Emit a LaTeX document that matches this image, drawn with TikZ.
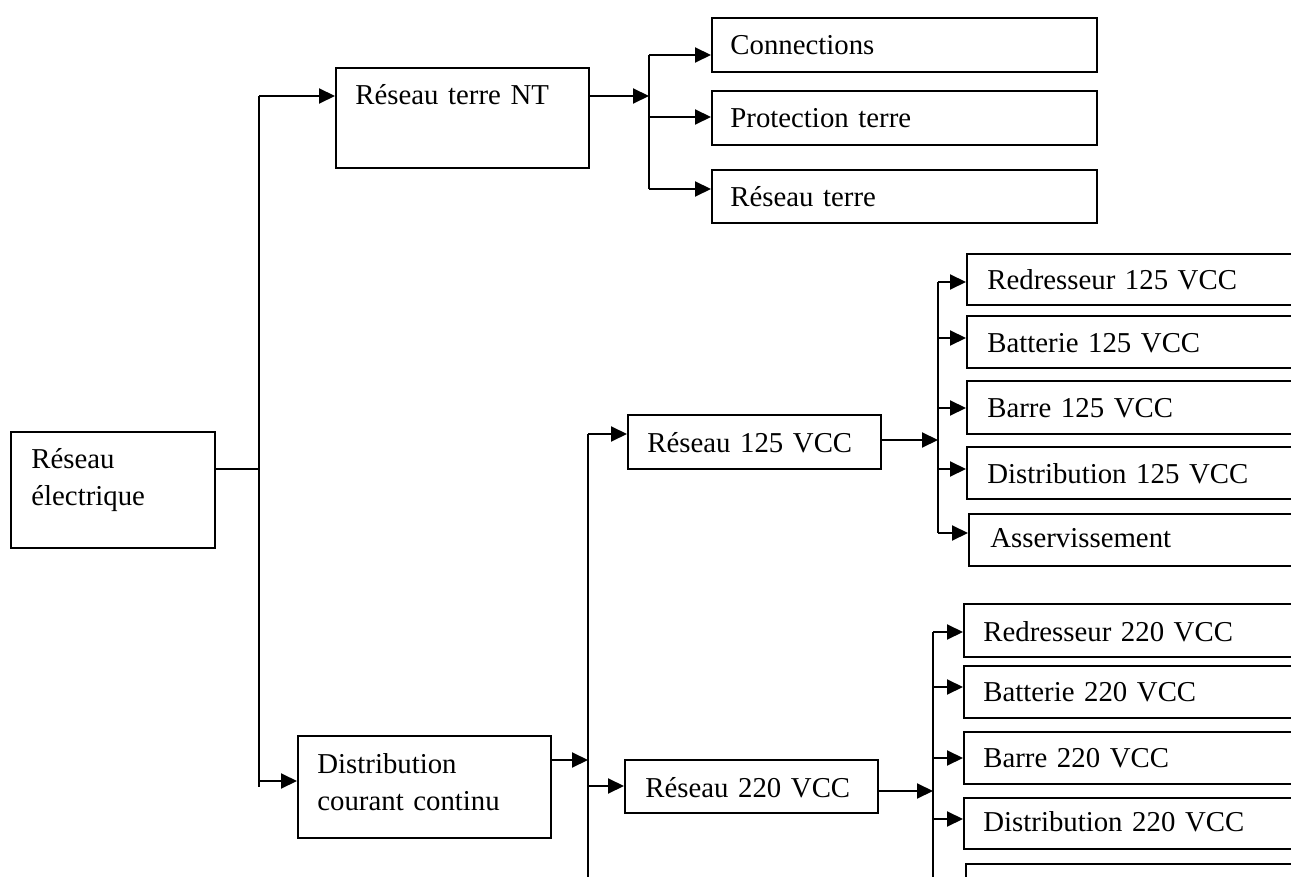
\documentclass[tikz,border=0pt]{standalone}
\usepackage{fontspec}
\setmainfont{Liberation Serif}
\usetikzlibrary{arrows.meta}
\begin{document}
\begin{tikzpicture}[x=0.5pt,y=-0.5pt,
  boxst/.style={draw, line width=1pt, rectangle, inner sep=0pt, anchor=north west},
  txt/.style={inner sep=0pt, anchor=base west, font=\fontsize{14.4}{18.5}\selectfont,
              text width=200pt, align=left},
  link/.style={line width=1pt},
  arr/.style={line width=1pt, -{Triangle[length=8pt,width=7.5pt]}}
]
\useasboundingbox (0,0) rectangle (1291,877);
\clip (0,0) rectangle (1291,877);

% ---- boxes (top-left corner, size) and their labels ----
\node[boxst, minimum width=102pt,   minimum height=58pt]   (elec)   at (10,431)  {};
\node[txt] (elec-t) at (31,468) {Réseau\\électrique};

\node[boxst, minimum width=126.5pt, minimum height=50pt]   (nt)     at (335,67)  {};
\node[txt] (nt-t) at (355,105) {Réseau terre NT};

\node[boxst, minimum width=192.5pt, minimum height=27pt]   (conn)   at (711,17)  {};
\node[txt] (conn-t) at (730,55) {Connections};
\node[boxst, minimum width=192.5pt, minimum height=27pt]   (prot)   at (711,90)  {};
\node[txt] (prot-t) at (730,128) {Protection terre};
\node[boxst, minimum width=192.5pt, minimum height=26.5pt] (rterre) at (711,169) {};
\node[txt] (rterre-t) at (730,207) {Réseau terre};

\node[boxst, minimum width=126.5pt, minimum height=51pt]   (dcc)    at (297,735) {};
\node[txt] (dcc-t) at (317,773) {Distribution\\courant continu};

\node[boxst, minimum width=126.5pt, minimum height=27pt]   (r125)   at (627,414) {};
\node[txt] (r125-t) at (647,452) {Réseau 125 VCC};
\node[boxst, minimum width=126.5pt, minimum height=26.5pt] (r220)   at (624,759) {};
\node[txt] (r220-t) at (645,797) {Réseau 220 VCC};

% 125 VCC equipment
\node[boxst, minimum width=182pt, minimum height=25.5pt] (red125) at (966,253) {};
\node[txt] (red125-t) at (987,290) {Redresseur 125 VCC};
\node[boxst, minimum width=182pt, minimum height=26pt]   (bat125) at (966,315) {};
\node[txt] (bat125-t) at (987,352) {Batterie 125 VCC};
\node[boxst, minimum width=182pt, minimum height=26.5pt] (bar125) at (966,380) {};
\node[txt] (bar125-t) at (987,417) {Barre 125 VCC};
\node[boxst, minimum width=182pt, minimum height=26pt]   (dis125) at (966,446) {};
\node[txt] (dis125-t) at (987,483) {Distribution 125 VCC};
\node[boxst, minimum width=182pt, minimum height=26pt]   (ass)    at (968,513) {};
\node[txt] (ass-t) at (990,547) {Asservissement};

% 220 VCC equipment
\node[boxst, minimum width=184pt, minimum height=26.5pt] (red220) at (963,603) {};
\node[txt] (red220-t) at (983,641) {Redresseur 220 VCC};
\node[boxst, minimum width=184pt, minimum height=26pt]   (bat220) at (963,665) {};
\node[txt] (bat220-t) at (983,701) {Batterie 220 VCC};
\node[boxst, minimum width=184pt, minimum height=26pt]   (bar220) at (963,731) {};
\node[txt] (bar220-t) at (983,767) {Barre 220 VCC};
\node[boxst, minimum width=184pt, minimum height=25.5pt] (dis220) at (963,797) {};
\node[txt] (dis220-t) at (983,831) {Distribution 220 VCC};
\node[boxst, minimum width=184pt, minimum height=30pt]   (last220) at (965,863) {};

% ---- main trunk ----
\coordinate (j0) at (259,469);
\coordinate (t-top) at (259,96);
\coordinate (t-bot) at (259,787);
\coordinate (j1) at (259,781);
\draw[link] (elec.east |- j0) -- (j0);
\draw[link] (t-top) -- (t-bot);
\draw[arr] (t-top) -- (nt.west |- t-top);
\draw[arr] (j1) -- (dcc.west |- j1);

% ---- earthing branch ----
\coordinate (b1) at (649,96);
\coordinate (b1-top) at (649,55);
\coordinate (b1-mid) at (649,117);
\coordinate (b1-bot) at (649,189);
\draw[arr] (nt.east |- b1) -- (b1);
\draw[link] (b1-top) -- (b1-bot);
\draw[arr] (b1-top) -- (conn.west |- b1-top);
\draw[arr] (b1-mid) -- (prot.west |- b1-mid);
\draw[arr] (b1-bot) -- (rterre.west |- b1-bot);

% ---- DC distribution branch ----
\coordinate (b2) at (588,760);
\coordinate (b2-top) at (588,434);
\coordinate (b2-mid) at (588,786);
\coordinate (b2-bot) at (588,890);
\draw[arr] (dcc.east |- b2) -- (b2);
\draw[link] (b2-top) -- (b2-bot);
\draw[arr] (b2-top) -- (r125.west |- b2-top);
\draw[arr] (b2-mid) -- (r220.west |- b2-mid);

% ---- 125 VCC bus ----
\coordinate (b3) at (938,440);
\coordinate (b3-1) at (938,282);
\coordinate (b3-2) at (938,338);
\coordinate (b3-3) at (938,408);
\coordinate (b3-4) at (938,469);
\coordinate (b3-5) at (938,533);
\draw[arr] (r125.east |- b3) -- (b3);
\draw[link] (b3-1) -- (b3-5);
\draw[arr] (b3-1) -- (red125.west |- b3-1);
\draw[arr] (b3-2) -- (bat125.west |- b3-2);
\draw[arr] (b3-3) -- (bar125.west |- b3-3);
\draw[arr] (b3-4) -- (dis125.west |- b3-4);
\draw[arr] (b3-5) -- (ass.west |- b3-5);

% ---- 220 VCC bus ----
\coordinate (b4) at (933,791);
\coordinate (b4-1) at (933,632);
\coordinate (b4-2) at (933,687);
\coordinate (b4-3) at (933,758);
\coordinate (b4-4) at (933,819);
\coordinate (b4-5) at (933,885);
\coordinate (b4-end) at (933,900);
\draw[arr] (r220.east |- b4) -- (b4);
\draw[link] (b4-1) -- (b4-end);
\draw[arr] (b4-1) -- (red220.west |- b4-1);
\draw[arr] (b4-2) -- (bat220.west |- b4-2);
\draw[arr] (b4-3) -- (bar220.west |- b4-3);
\draw[arr] (b4-4) -- (dis220.west |- b4-4);
\draw[arr] (b4-5) -- (last220.west |- b4-5);
\end{tikzpicture}
\end{document}
